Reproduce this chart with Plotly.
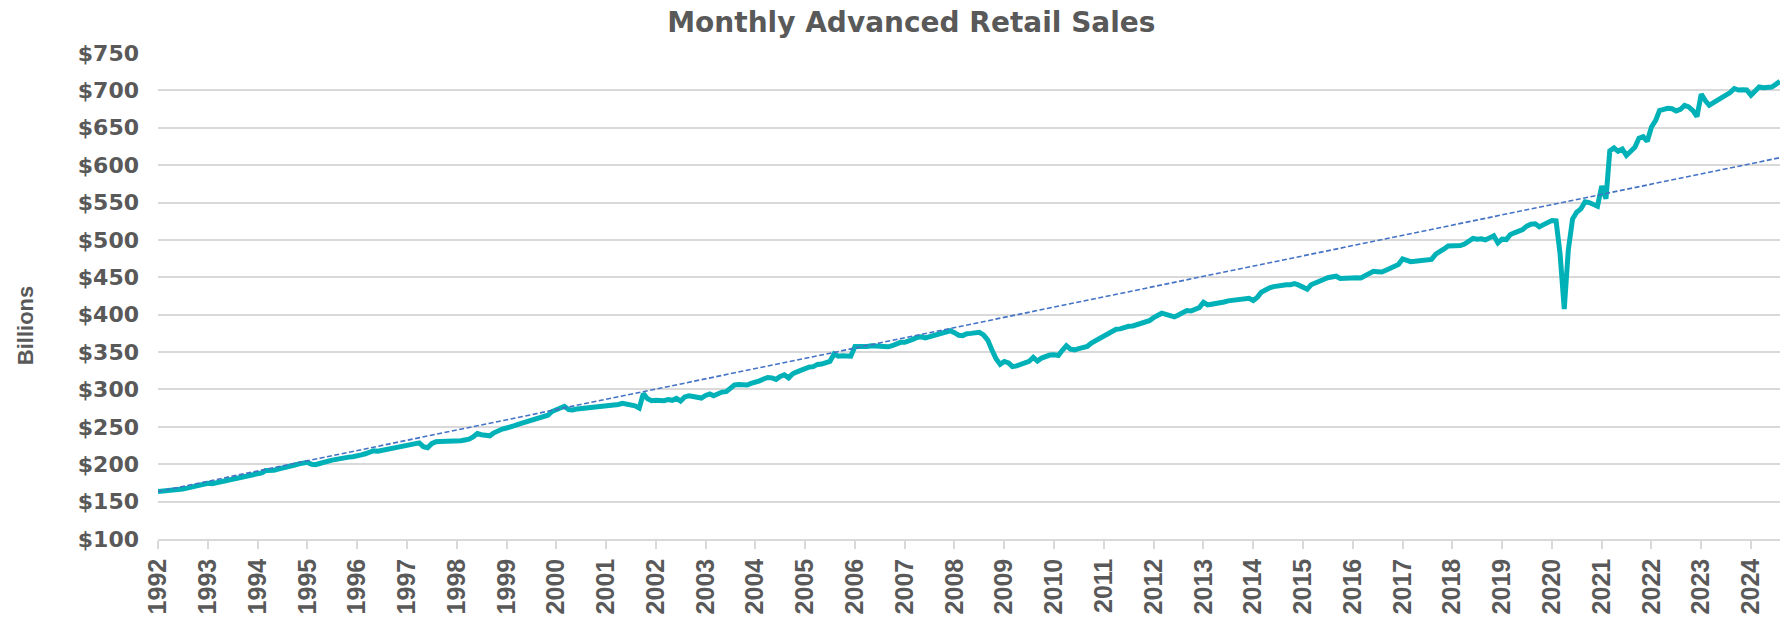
"""Monthly advanced retail sales line chart with trend line."""
import plotly.graph_objects as go
import pandas as pd

# Monthly retail sales, $ billions, Jan 1992 .. Aug 2024
sales = [
    163.6, 164.0, 164.2, 164.8, 166.0, 166.3, 167.0, 168.1, 169.5, 170.0, 171.5, 173.0,  # 1992
    174.5, 174.0, 175.0, 176.0, 177.5, 179.5, 180.0, 180.5, 182.0, 184.0, 185.0, 186.0,  # 1993
    186.5, 188.5, 191.5, 191.0, 192.0, 193.5, 194.5, 196.5, 197.5, 199.0, 200.5, 202.0,  # 1994
    202.5, 200.0, 199.5, 201.0, 203.0, 205.0, 205.5, 206.5, 208.0, 209.0, 209.5, 210.0,  # 1995
    210.5, 212.5, 214.0, 215.5, 218.0, 217.5, 218.5, 219.5, 221.0, 223.0, 223.5, 224.0,  # 1996
    225.0, 226.5, 227.0, 228.5, 223.5, 222.0, 227.5, 230.0, 230.5, 230.5, 230.0, 231.0,  # 1997
    231.5, 231.5, 232.5, 233.5, 236.5, 241.0, 239.5, 238.0, 238.0, 242.0, 245.5, 247.0,  # 1998
    248.5, 249.5, 251.5, 253.5, 255.0, 257.0, 259.5, 261.0, 262.5, 263.5, 265.5, 270.5,  # 1999
    273.0, 274.5, 277.5, 273.0, 272.5, 274.0, 274.5, 276.0, 276.5, 275.5, 276.5, 276.5,  # 2000
    278.5, 277.5, 278.0, 280.0, 281.5, 280.5, 279.5, 278.0, 275.0, 294.5, 287.5, 285.0,  # 2001
    285.5, 285.0, 285.0, 286.5, 285.5, 288.0, 284.5, 290.0, 291.5, 290.5, 290.0, 288.5,  # 2002
    292.0, 294.0, 291.5, 294.5, 296.5, 297.0, 300.5, 306.0, 306.5, 305.5, 306.0, 308.0,  # 2003
    309.0, 311.5, 314.0, 316.0, 315.5, 313.5, 317.5, 319.5, 315.5, 321.0, 323.5, 326.0,  # 2004
    328.0, 330.0, 330.5, 333.5, 334.0, 336.0, 337.5, 347.5, 344.5, 345.0, 344.0, 344.5,  # 2005
    357.5, 357.0, 358.0, 357.5, 358.5, 358.0, 357.5, 358.0, 357.0, 358.5, 360.5, 363.0,  # 2006
    363.0, 364.5, 367.0, 369.5, 370.5, 369.0, 370.5, 372.0, 373.5, 374.5, 377.5, 378.5,  # 2007
    376.0, 372.5, 372.0, 374.5, 375.0, 376.5, 376.5, 373.0, 366.0, 353.0, 341.0, 333.5,  # 2008
    337.5, 335.5, 330.5, 331.5, 333.0, 336.0, 337.5, 343.0, 338.0, 342.0, 344.5, 346.0,  # 2009
    346.5, 345.5, 352.0, 358.5, 354.0, 353.0, 354.5, 355.5, 357.5, 362.0, 365.0, 367.0,  # 2010
    371.0, 374.0, 377.5, 380.5, 381.0, 383.0, 384.5, 385.0, 386.5, 388.5, 390.5, 392.0,  # 2011
    396.0, 399.5, 402.0, 400.5, 398.5, 397.0, 399.5, 402.5, 405.5, 405.0, 406.5, 409.5,  # 2012
    416.5, 413.0, 414.0, 414.5, 415.5, 417.0, 418.5, 419.0, 419.5, 420.0, 421.5, 422.0,  # 2013
    419.0, 423.5, 430.0, 434.0, 436.0, 437.5, 438.5, 440.5, 440.0, 440.0, 441.5, 439.5,  # 2014
    436.5, 434.0, 440.0, 443.0, 445.5, 447.0, 449.5, 451.0, 451.5, 448.5, 449.0, 449.5,  # 2015
    450.0, 449.5, 449.0, 452.0, 455.5, 458.0, 457.5, 457.0, 459.5, 462.0, 465.0, 467.0,  # 2016
    474.5, 472.5, 471.0, 471.5, 472.5, 473.0, 473.5, 474.0, 481.0, 485.5, 488.0, 492.0,  # 2017
    492.5, 491.5, 492.5, 494.5, 499.0, 502.0, 501.0, 501.5, 500.0, 502.5, 505.5, 496.0,  # 2018
    501.0, 500.5, 507.0, 509.5, 512.0, 514.0, 518.5, 521.0, 521.5, 517.5, 520.5, 523.0,  # 2019
    526.0, 525.5, 482.0, 407.5, 487.0, 528.0, 537.0, 541.5, 551.0, 550.0, 546.5, 545.0,  # 2020
    572.0, 555.0, 619.0, 623.0, 618.5, 621.5, 613.0, 618.0, 624.0, 636.0, 638.0, 632.0,  # 2021
    651.0, 660.0, 673.0, 674.5, 676.0, 675.5, 672.5, 674.5, 680.0, 678.0, 673.0, 665.0,  # 2022
    695.0, 686.0, 680.0, 683.5, 686.5, 689.5, 692.5, 697.0, 702.5, 700.5, 701.0, 700.5,  # 2023
    693.5, 700.5, 704.5, 703.5, 704.0, 704.5, 708.0, 712.0,                              # 2024
]
first_month = '1992-01-01'

# Linear trend line, value at first and last month
trend_values = [163.5, 610.0]

months = pd.date_range(first_month, periods=len(sales), freq='MS')
trend_dates = [months[0], months[-1]]

GREY = '#595959'
WIDE_FONT = 'DejaVu Sans, Verdana, sans-serif'
FONT = 'Liberation Sans, Arial, sans-serif'

fig = go.Figure()

fig.add_trace(go.Scatter(
    x=months,
    y=sales,
    mode='lines',
    line=dict(color='#00B2B8', width=5),
    name='Retail Sales',
    hovertemplate='%{x|%b %Y}<br>$%{y:.1f}B<extra></extra>'
))

fig.add_trace(go.Scatter(
    x=trend_dates,
    y=trend_values,
    mode='lines',
    line=dict(color='#4472C4', width=1.6, dash='5px,2.5px'),
    name='Trend',
    hoverinfo='skip'
))

fig.update_layout(
    width=1780,
    height=617,
    paper_bgcolor='white',
    plot_bgcolor='white',
    showlegend=False,
    margin=dict(l=158, r=0, t=53, b=78),
    font=dict(family=FONT, color=GREY),
    title=dict(
        text='<b>Monthly Advanced Retail Sales</b>',
        x=0.512, xanchor='center', xref='container',
        y=0.964, yanchor='middle', yref='container',
        font=dict(size=28, color=GREY, family=WIDE_FONT)
    ),
    xaxis=dict(
        type='date',
        range=[months[0], months[-1]],
        dtick='M12',
        tick0=first_month,
        tickformat='<b>%Y</b>',
        tickangle=-90,
        tickfont=dict(size=25, color=GREY, family=FONT),
        showgrid=False,
        showline=True,
        linecolor='#d9d9d9',
        linewidth=1.5,
        ticks='outside',
        ticklen=8,
        tickcolor='#d9d9d9',
        tickwidth=1.5,
    ),
    yaxis=dict(
        range=[100, 750],
        dtick=50,
        tickprefix='<b>$',
        ticksuffix='</b>',
        tickfont=dict(size=22, color=GREY, family=WIDE_FONT),
        ticklabelstandoff=18,
        showgrid=True,
        gridcolor='#d9d9d9',
        gridwidth=1.5,
        zeroline=False,
        ticks='',
    ),
    annotations=[dict(
        text='<b>Billions</b>',
        xref='paper', yref='paper',
        x=-0.082, y=0.44,
        xanchor='center', yanchor='middle',
        textangle=-90,
        showarrow=False,
        font=dict(size=22, color=GREY, family=FONT)
    )]
)

# drop the browser's default body margin so the figure sits at (0, 0)
fig.write_html(
    'out.html',
    config={'displayModeBar': False},
    post_script="document.body.style.margin='0';"
)
